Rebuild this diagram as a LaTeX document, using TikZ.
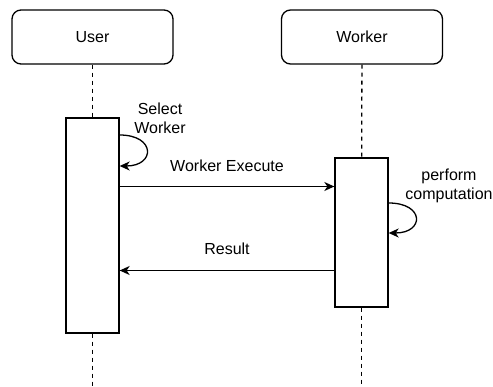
\documentclass[tikz,border=0pt]{standalone}
\usepackage{fontspec}
\setmainfont{Liberation Sans}
\usetikzlibrary{positioning,arrows.meta}

\begin{document}
\begin{tikzpicture}[
		x=1pt, y=-1pt
		,every node/.style={font=\fontsize{16}{19}\selectfont}
		,actor/.style={draw, rounded corners=9pt, line width=1.3pt, minimum width=161pt, minimum height=54pt}
		,act/.style={draw, fill=white, line width=1.3pt, minimum width=53pt}
		,life/.style={line width=1.3pt, dash pattern=on 4pt off 4pt}
		,msg/.style={line width=1.3pt, -{Stealth[length=10pt, width=9pt, inset=3pt]}}
	]
		\useasboundingbox (0,0) rectangle (493,387);

		\node[actor] (U) at (92.5,37) {User};
		\node[actor] (W) at (362,37) {Worker};
		\node[act, minimum height=215pt] (UA) at (92.5,225.5) {};
		\node[act, minimum height=149pt] (WA) at (361.5,232.5) {};
		\coordinate (Uend) at (92.5,387);
		\coordinate (Wend) at (361.5,387);

		\draw[life] (U) -- (UA);
		\draw[life] (UA) -- (Uend);
		\draw[life] (W) -- (WA);
		\draw[life] (WA) -- (Wend);

		\coordinate (s1) at (0,135);
		\coordinate (s2) at (0,166);
		\coordinate (m1) at (0,186.5);
		\coordinate (t1) at (0,203);
		\coordinate (t2) at (0,233);
		\coordinate (m2) at (0,270.5);

		\draw[msg] (UA.east |- s1) .. controls +(36,0) and +(36,0) .. (UA.east |- s2);
		\draw[msg] (UA.east |- m1) -- (WA.west |- m1);
		\draw[msg] (WA.east |- t1) .. controls +(36,0) and +(36,0) .. (WA.east |- t2);
		\draw[msg] (WA.west |- m2) -- (UA.east |- m2);

		\node[align=center] (sel) at (160,118) {Select\\Worker};
		\node (exe) at (227,166) {Worker Execute};
		\node[align=center] (perf) at (449,186) {perform\\computation};
		\node (res) at (227,249) {Result};
	\end{tikzpicture}
\end{document}
